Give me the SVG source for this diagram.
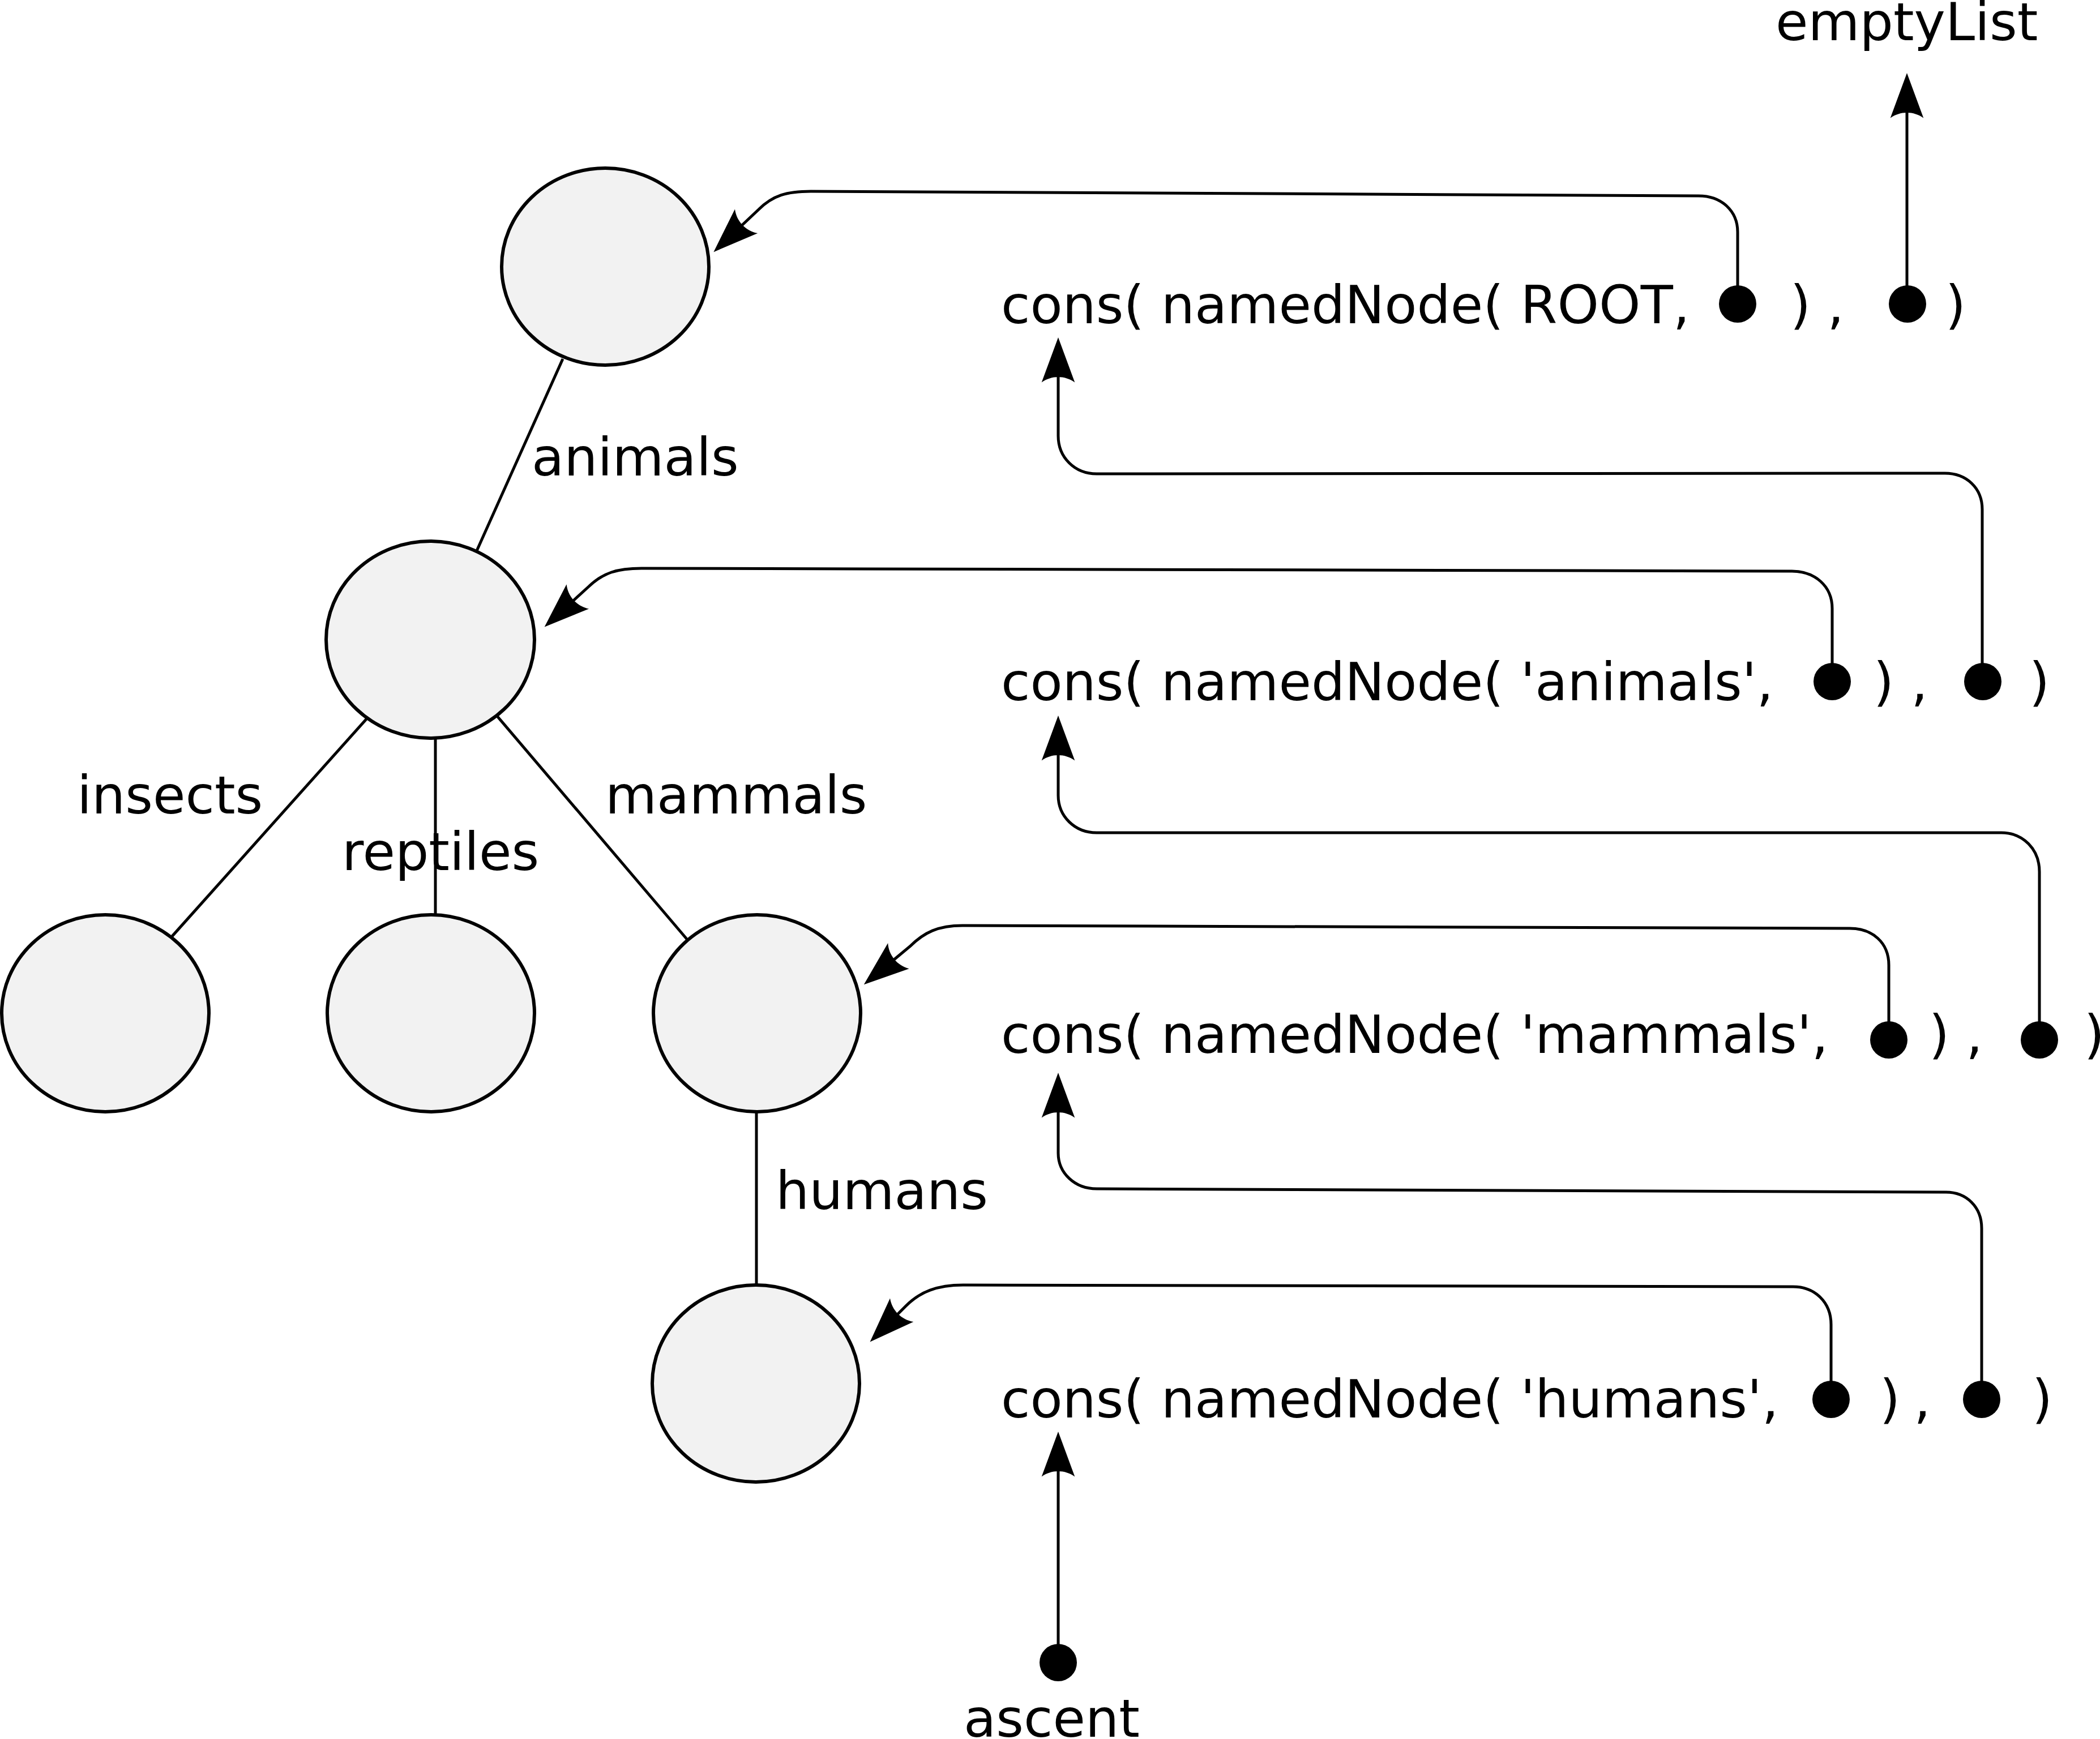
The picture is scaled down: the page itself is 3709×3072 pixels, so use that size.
<svg xmlns="http://www.w3.org/2000/svg" width="3709" height="3072" viewBox="0 0 3709 3072">
<style>
text{font-family:"DejaVu Sans","Liberation Sans",sans-serif;font-size:93.5px;fill:#000}
.node{fill:#f2f2f2;stroke:#000;stroke-width:6}
.edge{fill:none;stroke:#000;stroke-width:5}
.link{fill:none;stroke:#000;stroke-width:5;marker-end:url(#arr)}
.dot{fill:#000}
.p{text-anchor:middle}
</style>
<defs>
<marker id="arr" markerUnits="userSpaceOnUse" orient="auto" refX="0" refY="0" markerWidth="200" markerHeight="200" viewBox="-100 -100 200 200" overflow="visible">
<path d="M -19.4 29.3 L 60 0 L -19.4 -29.3 C -6.7 -11.8 -6.7 11.8 -19.4 29.3 Z" fill="#000"/>
</marker>
</defs>
<rect width="3709" height="3072" fill="#fff"/>

<g id="connectors">
<line class="edge" x1="994" y1="634" x2="842" y2="973"/>
<line class="edge" x1="650" y1="1267" x2="303" y2="1655"/>
<line class="edge" x1="769" y1="1304" x2="769" y2="1617"/>
<line class="edge" x1="878" y1="1265" x2="1214" y2="1660"/>
<line class="edge" x1="1336" y1="1964" x2="1336" y2="2271"/>
<path class="link" d="M 3069 537 L 3069 410 C 3069 372 3040 346 3000 346 L 1432 338 C 1390 338 1365 345 1340 370 L 1304 404"/>
<path class="link" d="M 3236 1204 L 3236 1075 C 3236 1035 3205 1009 3165 1009 L 1133 1004 C 1090 1004 1065 1012 1040 1036 L 1006 1067"/>
<path class="link" d="M 3336 1837 L 3336 1705 C 3336 1665 3307 1640 3267 1640 L 1700 1635 C 1657 1635 1632 1647 1607 1672 L 1572 1701"/>
<path class="link" d="M 3234 2472 L 3234 2340 C 3234 2300 3205 2273 3167 2273 L 1701 2270 C 1655 2270 1625 2282 1600 2307 L 1579 2328"/>
<path class="link" d="M 3368 537 L 3368 189"/>
<path class="link" d="M 3501 1204 L 3501 900 C 3501 862 3473 836 3435 836 L 1937 837 C 1898 837 1869 808 1869 770 L 1869 656"/>
<path class="link" d="M 3602 1837 L 3602 1540 C 3602 1500 3573 1471 3535 1471 L 1937 1471 C 1898 1471 1869 1442 1869 1405 L 1869 1324"/>
<path class="link" d="M 3500 2472 L 3500 2170 C 3500 2132 3473 2106 3437 2106 L 1937 2100 C 1898 2100 1869 2072 1869 2037 L 1869 1955"/>
<path class="link" d="M 1869 2937 L 1869 2589"/>
</g>

<g id="node-root"><ellipse class="node" cx="1069" cy="471" rx="183" ry="174"/></g>
<g id="node-animals"><ellipse class="node" cx="760" cy="1130" rx="184" ry="174"/></g>
<g id="node-insects"><ellipse class="node" cx="186" cy="1790" rx="183" ry="174"/></g>
<g id="node-reptiles"><ellipse class="node" cx="761" cy="1790" rx="183" ry="174"/></g>
<g id="node-mammals"><ellipse class="node" cx="1337" cy="1790" rx="183" ry="174"/></g>
<g id="node-humans"><ellipse class="node" cx="1335" cy="2444" rx="183" ry="174"/></g>

<g id="edge-labels">
<text x="939" y="840">animals</text>
<text x="136" y="1437">insects</text>
<text x="604" y="1537">reptiles</text>
<text x="1069" y="1437">mammals</text>
<text x="1370" y="2136">humans</text>
</g>

<g id="label-emptyList"><text x="3136" y="71">emptyList</text></g>

<g id="cons-root">
<text x="1768" y="571">cons( namedNode( ROOT,</text>
<circle class="dot" cx="3069" cy="537" r="33"/>
<text class="p" x="3180" y="571">)</text>
<text class="p" x="3242" y="571">,</text>
<circle class="dot" cx="3369" cy="537" r="33"/>
<text class="p" x="3454" y="571">)</text>
</g>

<g id="cons-animals">
<text x="1768" y="1237">cons( namedNode( 'animals',</text>
<circle class="dot" cx="3236" cy="1204" r="33"/>
<text class="p" x="3327" y="1237">)</text>
<text class="p" x="3390" y="1237">,</text>
<circle class="dot" cx="3502" cy="1204" r="33"/>
<text class="p" x="3602" y="1237">)</text>
</g>

<g id="cons-mammals">
<text x="1768" y="1860">cons( namedNode( 'mammals',</text>
<circle class="dot" cx="3336" cy="1837" r="33"/>
<text class="p" x="3425" y="1860">)</text>
<text class="p" x="3487" y="1860">,</text>
<circle class="dot" cx="3602" cy="1837" r="33"/>
<text class="p" x="3699" y="1860">)</text>
</g>

<g id="cons-humans">
<text x="1768" y="2504">cons( namedNode( 'humans',</text>
<circle class="dot" cx="3234" cy="2472" r="33"/>
<text class="p" x="3338" y="2504">)</text>
<text class="p" x="3395" y="2504">,</text>
<circle class="dot" cx="3500" cy="2472" r="33"/>
<text class="p" x="3607" y="2504">)</text>
</g>

<g id="ascent">
<circle class="dot" cx="1869" cy="2937" r="33"/>
<text x="1702" y="3068">ascent</text>
</g>
</svg>
